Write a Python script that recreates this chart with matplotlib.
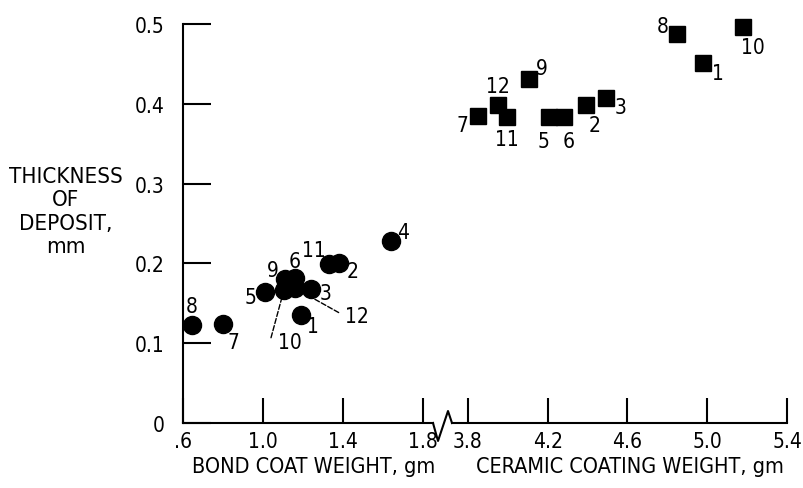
import matplotlib
matplotlib.use('AGG')
import matplotlib.pyplot as plt
from matplotlib.lines import Line2D

plt.rcParams['font.family'] = ['DejaVu Sans']
plt.rcParams['font.stretch'] = 'condensed'

# bond coat weight (circles)
bond_ids = [1, 2, 3, 4, 5, 6, 7, 8, 9, 10, 11, 12]
bond_weight = [1.19, 1.38, 1.24, 1.64, 1.01, 1.16, 0.80, 0.645, 1.11, 1.105, 1.33, 1.16]
bond_thick = [0.135, 0.201, 0.168, 0.228, 0.164, 0.182, 0.124, 0.1225, 0.181, 0.167, 0.199, 0.169]

# ceramic coating weight (squares)
cer_ids = [1, 2, 3, 5, 6, 7, 8, 9, 10, 11, 12]
cer_weight = [4.98, 4.39, 4.49, 4.205, 4.28, 3.85, 4.85, 4.105, 5.18, 3.995, 3.95]
cer_thick = [0.451, 0.399, 0.407, 0.384, 0.384, 0.385, 0.4875, 0.431, 0.496, 0.384, 0.399]

bond_ticks = [0.6, 1.0, 1.4, 1.8]
bond_tick_labels = ['.6', '1.0', '1.4', '1.8']
cer_ticks = [3.8, 4.2, 4.6, 5.0, 5.4]
cer_tick_labels = ['3.8', '4.2', '4.6', '5.0', '5.4']
y_ticks = [0, 0.1, 0.2, 0.3, 0.4, 0.5]
y_tick_labels = ['0', '0.1', '0.2', '0.3', '0.4', '0.5']

# label offsets in pixels (dx, dy)
bond_offsets = {1: (12, -11), 2: (14, -8), 3: (15, -4), 4: (12, 9), 5: (-15, -5),
                6: (0, 17), 7: (10, -18), 8: (0, 19), 9: (-12, 9), 11: (-15, 14)}
cer_offsets = {1: (15, -10), 2: (9, -20), 3: (15, -9), 5: (-5, -24), 6: (5, -24),
               7: (-15, -9), 8: (-15, 8), 9: (13, 11), 10: (10, -20), 11: (0, -22),
               12: (0, 19)}

fig = plt.figure(figsize=(8.04, 4.89), dpi=100)
ax1 = fig.add_axes([183 / 804, 65 / 489, 250 / 804, 399 / 489])
ax2 = fig.add_axes([452 / 804, 65 / 489, 335 / 804, 399 / 489])

fs = 15
for ax in (ax1, ax2):
    ax.set_ylim(0, 0.5)
    ax.spines['top'].set_visible(False)
    ax.spines['right'].set_visible(False)
    ax.spines['bottom'].set_linewidth(1.5)
    ax.spines['left'].set_linewidth(1.5)
    ax.tick_params(axis='x', direction='in', length=18, width=1.5, pad=6, labelsize=fs)
    ax.patch.set_alpha(0)

ax1.set_xlim(0.6, 1.85)
ax2.set_xlim(3.72, 5.4)
ax2.spines['left'].set_visible(False)
ax2.tick_params(axis='y', left=False, labelleft=False)

ax1.set_yticks(y_ticks)
ax1.set_yticklabels(y_tick_labels)
ax1.tick_params(axis='y', direction='in', length=20, width=1.5, pad=13, labelsize=fs)
ax1.set_xticks(bond_ticks)
ax1.set_xticklabels(bond_tick_labels)
ax2.set_xticks(cer_ticks)
ax2.set_xticklabels(cer_tick_labels)

ax1.plot(bond_weight, bond_thick, 'o', color='black', markersize=13, clip_on=False)
ax2.plot(cer_weight, cer_thick, 's', color='black', markersize=12, clip_on=False)

for i, x, y in zip(bond_ids, bond_weight, bond_thick):
    if i in bond_offsets:
        ax1.annotate(str(i), (x, y), xytext=bond_offsets[i], textcoords='offset pixels',
                     ha='center', va='center', fontsize=fs)
# leader lines for the crowded points
ax1.annotate('10', (bond_weight[9], bond_thick[9]), xytext=(6, -52), textcoords='offset pixels',
             ha='center', va='center', fontsize=fs,
             arrowprops=dict(arrowstyle='-', ls='--', lw=1, color='black',
                             relpos=(-0.3, 0.7), shrinkA=0, shrinkB=6))
ax1.annotate('12', (bond_weight[11], bond_thick[11]), xytext=(62, -28), textcoords='offset pixels',
             ha='center', va='center', fontsize=fs,
             arrowprops=dict(arrowstyle='-', ls='--', lw=1, color='black',
                             relpos=(0, 0.5), shrinkA=3, shrinkB=8))

for i, x, y in zip(cer_ids, cer_weight, cer_thick):
    ax2.annotate(str(i), (x, y), xytext=cer_offsets[i], textcoords='offset pixels',
                 ha='center', va='center', fontsize=fs)

# axis break zigzag
ax1.add_line(Line2D([1.0, 1.02, 1.06, 1.076], [0, -0.045, 0.03, 0],
                    transform=ax1.transAxes, color='black', lw=1.5, clip_on=False))

ax1.set_xlabel('BOND COAT WEIGHT, gm', fontsize=fs + 0.5)
ax1.xaxis.set_label_coords(0.524, -0.083)
ax2.set_xlabel('CERAMIC COATING WEIGHT, gm', fontsize=fs + 0.5)
ax2.xaxis.set_label_coords(0.531, -0.083)

fig.text(66 / 804, 1 - 212 / 489, 'THICKNESS\nOF\nDEPOSIT,\nmm', ha='center', va='center',
         multialignment='center', fontsize=fs + 1, linespacing=1.2)

plt.savefig('out.png', dpi=100)
